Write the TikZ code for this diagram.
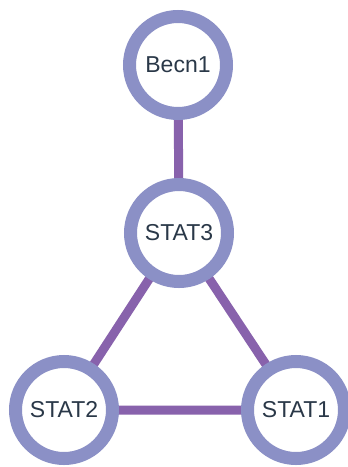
\documentclass[tikz,border=0pt]{standalone}
\usepackage{fontspec}
\setmainfont{Liberation Sans}
\definecolor{ringc}{HTML}{8B90C6}
\definecolor{edgec}{HTML}{8862AC}
\definecolor{txtc}{HTML}{2A3848}
\begin{document}
\begin{tikzpicture}[x=1pt,y=-1pt,
  gene/.style={circle,draw=ringc,line width=13pt,fill=white,minimum size=97pt,inner sep=0pt,text=txtc,font=\fontsize{23}{25}\selectfont},
  link/.style={draw=edgec,line width=9pt}]
\useasboundingbox (0,0) rectangle (348,467);
\fill[white] (0,0) rectangle (348,467);
\coordinate (cb) at (178,65);
\coordinate (c3) at (179,233);
\coordinate (c2) at (64,410);
\coordinate (c1) at (296,410);
\path[link] (cb) -- (c3) (c3) -- (c2) (c3) -- (c1) (c2) -- (c1);
\node[gene] (becn1) at (cb) {Becn1};
\node[gene] (stat3) at (c3) {STAT3};
\node[gene] (stat2) at (c2) {STAT2};
\node[gene] (stat1) at (c1) {STAT1};
\end{tikzpicture}
\end{document}
